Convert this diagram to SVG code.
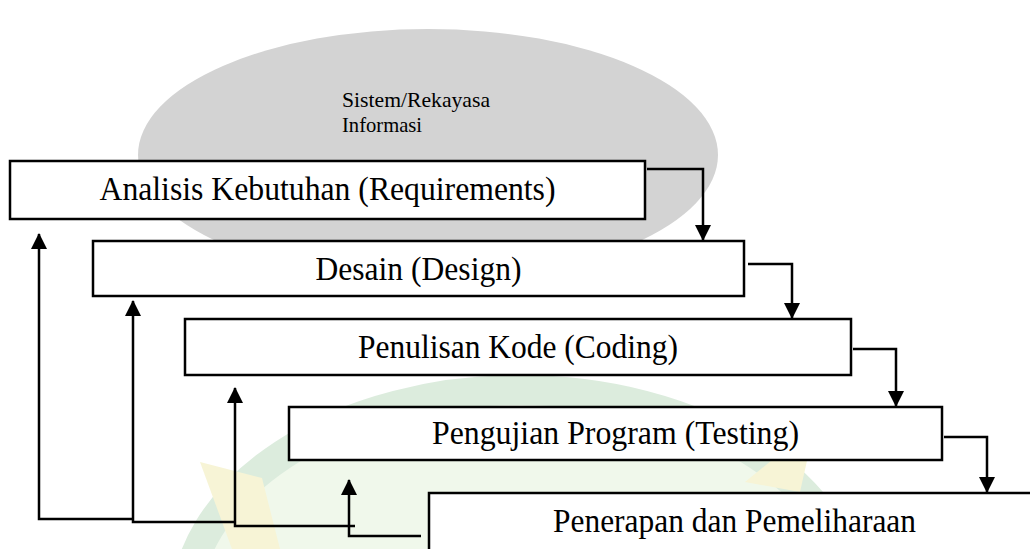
<svg xmlns="http://www.w3.org/2000/svg" width="1030" height="549" viewBox="0 0 1030 549">
  <style>
    .box { fill: #ffffff; stroke: #000000; stroke-width: 2.5; }
    .label { font-family: "Liberation Serif", "Times New Roman", serif; font-size: 33px; fill: #000000; text-anchor: middle; }
    .small { font-family: "Liberation Serif", "Times New Roman", serif; font-size: 22px; fill: #000000; }
    .wire { fill: none; stroke: #000000; stroke-width: 2.5; stroke-linejoin: miter; }
  </style>
  <defs>
    <marker id="arrow" markerUnits="userSpaceOnUse" markerWidth="16" markerHeight="16" viewBox="0 0 16 16" refX="15" refY="8" orient="auto">
      <path d="M0,0 L16,8 L0,16 Z" fill="#000000"/>
    </marker>
  </defs>

  <rect width="1030" height="549" fill="#ffffff"/>

  <!-- faint background emblem -->
  <g id="emblem" opacity="0.85">
    <ellipse cx="520" cy="610" rx="335" ry="220" fill="#eef7e8" stroke="#d6e9d8" stroke-width="30"/>
    <polygon points="200,462 262,478 280,549 232,549" fill="#f6f3cf"/>
    <polygon points="815,425 800,492 745,482" fill="#f6f3cf"/>
  </g>

  <!-- background ellipse -->
  <g id="system">
    <ellipse cx="428" cy="155" rx="290" ry="126" fill="#d3d3d3"/>
    <text class="small" x="342" y="107" textLength="148" lengthAdjust="spacingAndGlyphs">Sistem/Rekayasa</text>
    <text class="small" x="342" y="132" textLength="80" lengthAdjust="spacingAndGlyphs">Informasi</text>
  </g>

  <g id="requirements">
    <rect class="box" x="10" y="161" width="635" height="58"/>
    <text class="label" x="327.5" y="200" textLength="456" lengthAdjust="spacingAndGlyphs">Analisis Kebutuhan (Requirements)</text>
  </g>
  <g id="design">
    <rect class="box" x="93" y="241" width="651" height="55"/>
    <text class="label" x="418.5" y="280" textLength="206" lengthAdjust="spacingAndGlyphs">Desain (Design)</text>
  </g>
  <g id="coding">
    <rect class="box" x="185" y="319" width="666" height="56"/>
    <text class="label" x="518" y="358" textLength="320" lengthAdjust="spacingAndGlyphs">Penulisan Kode (Coding)</text>
  </g>
  <g id="testing">
    <rect class="box" x="289" y="407" width="653" height="53"/>
    <text class="label" x="615.5" y="444" textLength="367" lengthAdjust="spacingAndGlyphs">Pengujian Program (Testing)</text>
  </g>
  <g id="maintenance">
    <rect class="box" x="429" y="493" width="620" height="70"/>
    <text class="label" x="734.5" y="532" textLength="363" lengthAdjust="spacingAndGlyphs">Penerapan dan Pemeliharaan</text>
  </g>

  <g id="connectors">
    <!-- forward flow -->
    <path class="wire" d="M647,169 H703 V240" marker-end="url(#arrow)"/>
    <path class="wire" d="M748,264 H792 V318" marker-end="url(#arrow)"/>
    <path class="wire" d="M853,349 H896 V406" marker-end="url(#arrow)"/>
    <path class="wire" d="M944,437 H987 V492" marker-end="url(#arrow)"/>
    <!-- feedback flow -->
    <path class="wire" d="M421,536 H349 V480" marker-end="url(#arrow)"/>
    <path class="wire" d="M355,526 H235 V388" marker-end="url(#arrow)"/>
    <path class="wire" d="M235,522 H133 V301" marker-end="url(#arrow)"/>
    <path class="wire" d="M133,519 H39 V234" marker-end="url(#arrow)"/>
  </g>
</svg>
